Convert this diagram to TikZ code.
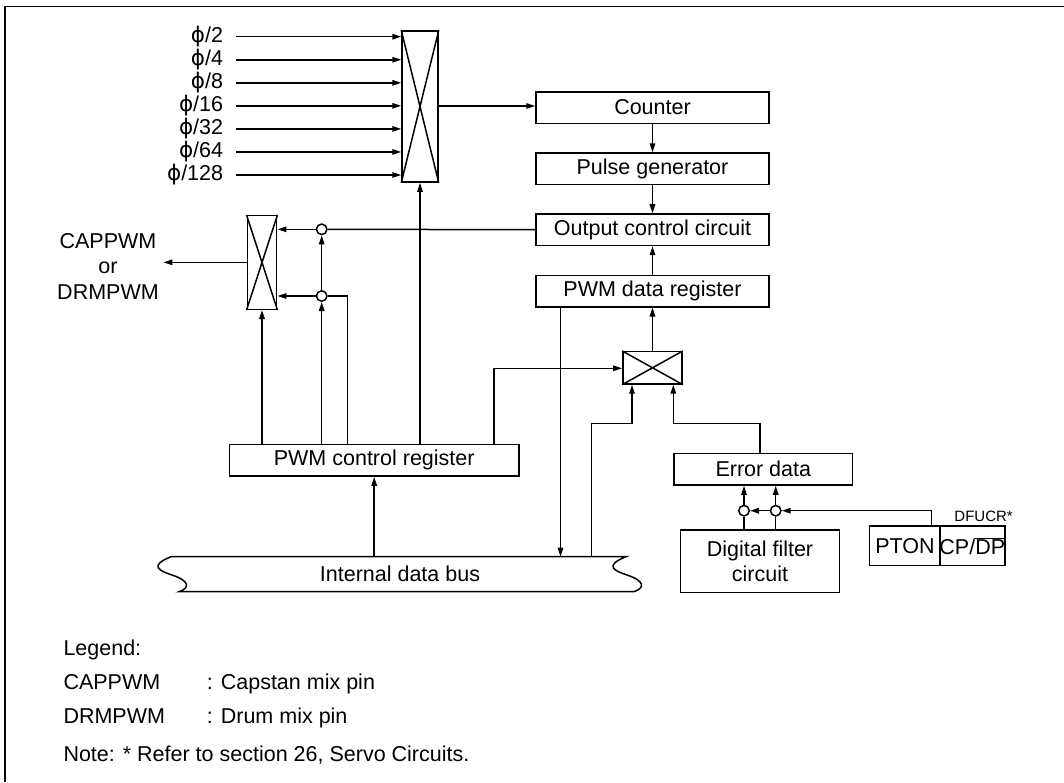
\documentclass[tikz,border=0pt]{standalone}
\usepackage{fontspec}
\setmainfont{Liberation Sans}
\newfontfamily\dejavu{DejaVu Sans}
\usetikzlibrary{arrows.meta,calc}
\newcommand{\ph}{{\dejavu\char"03D5}}
\begin{document}
\begin{tikzpicture}[x=1pt,y=-1pt,
  every node/.style={font=\fontsize{21.5}{25.5}\selectfont},
  lw/.style={line width=1.5pt},
  box/.style={draw, lw, inner sep=0pt, minimum height=31.5pt},
  mux/.style={draw, lw, inner sep=0pt},
  circ/.style={circle, draw, lw, fill=white, minimum size=10.5pt, inner sep=0pt},
  arr/.style={lw, -{Triangle[length=9pt,width=5.5pt]}},
  ln/.style={lw},
  lbl/.style={anchor=east, inner xsep=12.7pt, inner ysep=0pt},
  txt/.style={anchor=base west, inner sep=0pt}]
\useasboundingbox (0,0) rectangle (1064,782);
% frame
\draw[line width=1.7pt] (5,782) -- (5,6.5) -- (1064,6.5);

% right column boxes
\node[box, minimum width=233pt] (counter) at (652.5,107.5) {Counter};
\node[box, minimum width=233pt] (pulse) at (652.5,168.8) {Pulse generator};
\node[box, minimum width=233pt] (outctl) at (652.5,229.7) {Output control circuit};
\node[box, minimum width=233pt] (pwmdata) at (652.5,291) {PWM data register};

% multiplexers
\node[mux, minimum width=36pt, minimum height=151pt] (mux1) at (420,106.5) {};
\node[mux, minimum width=29.4pt, minimum height=93.6pt] (mux2) at (262,262.5) {};
\node[mux, minimum width=59.3pt, minimum height=32.3pt] (mux3) at (652.5,367.8) {};
\foreach \m in {mux1,mux2,mux3}{
  \draw[ln] (\m.north west) -- (\m.south east) (\m.north east) -- (\m.south west);
}

% other boxes
\node[box, minimum width=289.7pt, minimum height=31.7pt] (pwmctl) at (374.2,460.2) {PWM control register};
\node[box, minimum width=178.7pt, minimum height=31.7pt] (errdata) at (763.3,469.2) {Error data};
\node[box, minimum width=158.6pt, minimum height=62.3pt, align=center] (dfilter) at (760,561.2) {Digital filter\\circuit};
\node[box, minimum width=71.4pt, minimum height=39.7pt] (pton) at (905,545.8) {PTON};
\node[box, minimum width=63.3pt, minimum height=39.7pt] (cpdp) at (972.3,545.8) {CP/$\overline{\mbox{DP}}$};
\node[anchor=base east, inner sep=0pt, font=\fontsize{15}{17}\selectfont] (dfucr) at (1013,521) {DFUCR*};

% circles
\node[circ] (c1) at (321.7,229.3) {};
\node[circ] (c2) at (321.7,296) {};
\node[circ] (c3) at (744,510.7) {};
\node[circ] (c4) at (775.7,510.7) {};

% bus
\node[inner sep=0pt] (bus) at (400,574) {Internal data bus};
\coordinate (bustop) at (400,556.7);
\draw[ln] (171,556.7) -- (626,556.7)
  .. controls (603,566) and (615,571) .. (627,575)
  .. controls (645,581) and (645,588) .. (634,591.7)
  -- (179,591.7)
  .. controls (190,588) and (190,581) .. (172,575)
  .. controls (160,571) and (148,566) .. (171,556.7);

% inputs
\foreach \t [count=\i from 0] in {2,4,8,16,32,64,128}{
  \node[lbl] (in\i) at (236,36.7+23.05*\i) {\ph/\t};
  \draw[arr] (in\i.east) -- (in\i.east -| mux1.west);
}

% output label
\node[align=center, inner xsep=4.5pt, inner ysep=0pt] (out) at (108,266) {CAPPWM\\or\\DRMPWM};

% connectors
\draw[arr] (mux1.east |- 0,106) -- (counter.west |- 0,106);
\draw[arr] (counter.south) -- (pulse.north);
\draw[arr] (pulse.south) -- (outctl.north);
\draw[arr] (pwmdata.north) -- (outctl.south);
\draw[ln] (outctl.west) -- (c1.east);
\draw[arr] (c1.west) -- (c1.west -| mux2.east);
\draw[arr] (c2.west) -- (c2.west -| mux2.east);
\draw[arr] (mux2.west |- 0,262.3) -- (out.east |- 0,262.3);
\draw[arr] (pwmctl.north -| c2.south) -- (c2.south);
\draw[arr] (c2.north) -- (c1.south);
\coordinate (k1) at (347.3,296);
\draw[ln] (pwmctl.north -| k1) -- (k1) -- (c2.east);
\draw[arr] (pwmctl.north -| mux2.south) -- (mux2.south);
\draw[arr] (pwmctl.north -| mux1.south) -- (mux1.south);
\coordinate (k2) at (494,368.3);
\draw[arr] (pwmctl.north -| k2) -- (k2) -- (k2 -| mux3.west);
\draw[arr] (mux3.north) -- (pwmdata.south);
\coordinate (k3) at (560.5,300);
\draw[arr] (pwmdata.south -| k3) -- (bustop -| k3);
\coordinate (k4) at (591.7,423.5);
\coordinate (k5) at (632,423.5);
\draw[arr] (bustop -| k4) -- (k4) -- (k5) -- (k5 |- mux3.south);
\coordinate (k6) at (673.3,423.5);
\coordinate (k7) at (760,423.5);
\draw[arr] (errdata.north -| k7) -- (k7) -- (k6) -- (k6 |- mux3.south);
\draw[arr] (bustop -| pwmctl.south) -- (pwmctl.south);
\draw[ln] (dfilter.north -| c3.south) -- (c3.south);
\draw[ln] (dfilter.north -| c4.south) -- (c4.south);
\draw[arr] (c3.north) -- (c3.north |- errdata.south);
\draw[arr] (c4.north) -- (c4.north |- errdata.south);
\draw[arr] (c4.west) -- (c3.east);
\coordinate (k8) at (931.7,510.7);
\draw[arr] (pton.north -| k8) -- (k8) -- (c4.east);

% legend
\node[txt] (lg) at (63.3,655) {Legend:};
\node[txt] (lcap) at (63.3,689) {CAPPWM};
\node[txt] (lcapd) at (206.7,689) {: Capstan mix pin};
\node[txt] (ldrm) at (63.3,723) {DRMPWM};
\node[txt] (ldrmd) at (206.7,723) {: Drum mix pin};
\node[txt] (note) at (63.3,761.5) {Note: * Refer to section 26, Servo Circuits.};
\end{tikzpicture}
\end{document}
